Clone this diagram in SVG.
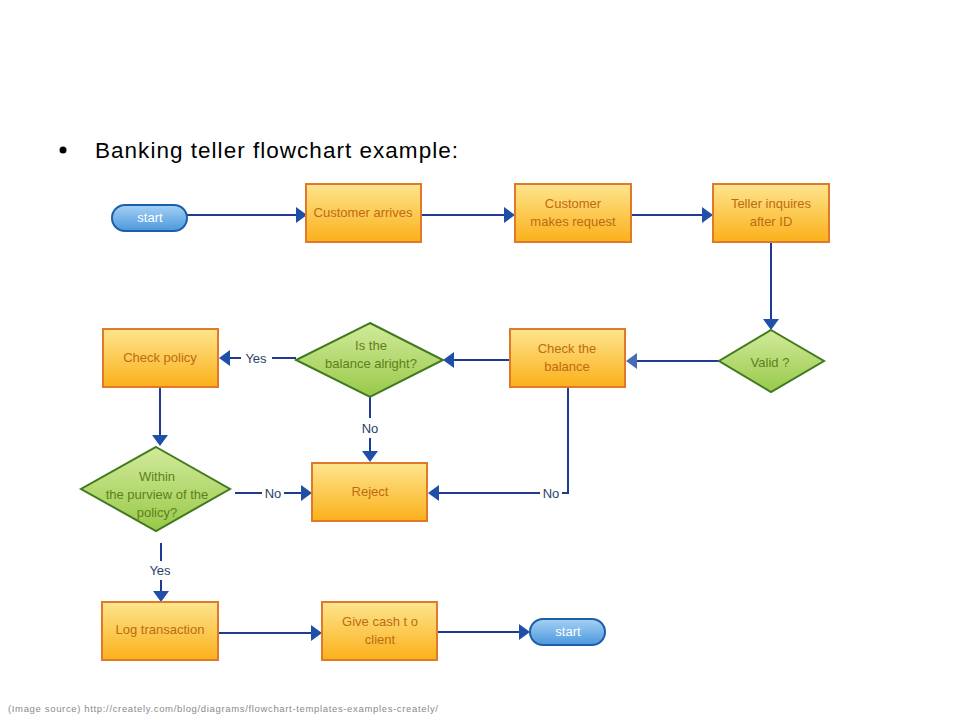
<svg xmlns="http://www.w3.org/2000/svg" width="960" height="720" viewBox="0 0 960 720">
<style>
.box{stroke:#e07a2a;stroke-width:2;fill:url(#og)}
.dia{stroke:#3f7a1e;stroke-width:2;fill:url(#gg)}
.pill{stroke:#1d5ea8;stroke-width:2;fill:url(#bg)}
.bt{font-family:"Liberation Sans",Arial,sans-serif;font-size:13px;fill:#c06a12;text-anchor:middle}
.dt{font-family:"Liberation Sans",Arial,sans-serif;font-size:13px;fill:#5f7f1c;text-anchor:middle}
.pt{font-family:"Liberation Sans",Arial,sans-serif;font-size:13px;fill:#ffffff;text-anchor:middle}
.lt{font-family:"Liberation Sans",Arial,sans-serif;font-size:13px;fill:#2b3f66;text-anchor:middle}
.ln{stroke:#1f3a94;stroke-width:2;fill:none}
.ah{fill:#1f4fa8}
</style>
<defs>
<linearGradient id="og" x1="0" y1="0" x2="0" y2="1"><stop offset="0" stop-color="#fde58e"/><stop offset="1" stop-color="#fbb01a"/></linearGradient>
<linearGradient id="gg" x1="0" y1="0" x2="0" y2="1"><stop offset="0" stop-color="#d2ea9a"/><stop offset="1" stop-color="#98c94a"/></linearGradient>
<linearGradient id="bg" x1="0" y1="0" x2="0" y2="1"><stop offset="0" stop-color="#a5d2f5"/><stop offset="1" stop-color="#4b97dc"/></linearGradient>
</defs>
<rect width="960" height="720" fill="#ffffff"/>
<circle cx="63" cy="150" r="3.5" fill="#000"/>
<text x="95" y="158" font-family="'Liberation Sans',Arial,sans-serif" font-size="22.5" fill="#000" textLength="363">Banking teller flowchart example:</text>
<text x="8" y="712" font-family="'Liberation Sans',Arial,sans-serif" font-size="9.5" fill="#8a8a8a" textLength="430">(Image source) http://creately.com/blog/diagrams/flowchart-templates-examples-creately/</text>

<g id="connectors">
<path class="ln" d="M187 215 H298"/><path class="ah" d="M307 215 L296 207 L296 223 Z"/>
<path class="ln" d="M421 215 H506"/><path class="ah" d="M515 215 L504 207 L504 223 Z"/>
<path class="ln" d="M631 215 H704"/><path class="ah" d="M713 215 L702 207 L702 223 Z"/>
<path class="ln" d="M771 242 V320"/><path class="ah" d="M771 330 L763 319 L779 319 Z"/>
<path class="ln" d="M719 361 H636"/><path d="M626 361 L637 353 L637 369 Z" fill="#4a6ab8"/>
<path class="ln" d="M510 360 H453"/><path class="ah" d="M443 360 L454 352 L454 368 Z"/>
<path class="ln" d="M296 358 H272"/><path class="ln" d="M241 358 H229"/><path class="ah" d="M219 358 L230 350 L230 366 Z"/>
<text class="lt" x="256" y="363">Yes</text>
<path class="ln" d="M160 387 V436"/><path class="ah" d="M160 446 L152 435 L168 435 Z"/>
<path class="ln" d="M370 397 V418"/><path class="ln" d="M370 438 V452"/><path class="ah" d="M370 462 L362 451 L378 451 Z"/>
<text class="lt" x="370" y="433">No</text>
<path class="ln" d="M235 493 H262"/><path class="ln" d="M284 493 H303"/><path class="ah" d="M312 493 L301 485 L301 501 Z"/>
<text class="lt" x="273" y="498">No</text>
<path class="ln" d="M568 387 V493 H562"/><path class="ln" d="M540 493 H438"/><path class="ah" d="M428 493 L439 485 L439 501 Z"/>
<text class="lt" x="551" y="498">No</text>
<path class="ln" d="M161 543 V561"/><path class="ln" d="M161 580 V592"/><path class="ah" d="M161 602 L153 591 L169 591 Z"/>
<text class="lt" x="160" y="575">Yes</text>
<path class="ln" d="M218 633 H313"/><path class="ah" d="M322 633 L311 625 L311 641 Z"/>
<path class="ln" d="M437 632 H521"/><path class="ah" d="M530 632 L519 624 L519 640 Z"/>
</g>

<g id="start"><rect class="pill" x="112" y="205" width="75" height="26" rx="13"/><text class="pt" x="150" y="222">start</text></g>
<g id="customer-arrives"><rect class="box" x="306" y="184" width="115" height="58"/><text class="bt" x="363" y="217">Customer arrives</text></g>
<g id="customer-request"><rect class="box" x="515" y="184" width="116" height="58"/><text class="bt" x="573" y="208">Customer</text><text class="bt" x="573" y="226">makes request</text></g>
<g id="teller"><rect class="box" x="713" y="184" width="116" height="58"/><text class="bt" x="771" y="208">Teller inquires</text><text class="bt" x="771" y="226">after ID</text></g>
<g id="valid"><path class="dia" d="M771 330 L824 361 L771 392 L719 361 Z"/><text class="dt" x="770" y="367">Valid  ?</text></g>
<g id="check-balance"><rect class="box" x="510" y="329" width="115" height="58"/><text class="bt" x="567" y="353">Check the</text><text class="bt" x="567" y="371">balance</text></g>
<g id="balance-ok"><path class="dia" d="M370 323 L443 360 L370 397 L296 360 Z"/><text class="dt" x="371" y="350">Is the</text><text class="dt" x="371" y="368">balance  alright?</text></g>
<g id="check-policy"><rect class="box" x="103" y="329" width="115" height="58"/><text class="bt" x="160" y="362">Check policy</text></g>
<g id="within"><path class="dia" d="M156 447 L230 489 L156 531 L81 489 Z"/><text class="dt" x="157" y="481">Within</text><text class="dt" x="157" y="499">the purview  of the</text><text class="dt" x="157" y="517">policy?</text></g>
<g id="reject"><rect class="box" x="312" y="463" width="115" height="58"/><text class="bt" x="370" y="496">Reject</text></g>
<g id="log"><rect class="box" x="102" y="602" width="116" height="58"/><text class="bt" x="160" y="634">Log transaction</text></g>
<g id="give-cash"><rect class="box" x="322" y="602" width="115" height="58"/><text class="bt" x="380" y="626">Give cash t o</text><text class="bt" x="380" y="644">client</text></g>
<g id="end"><rect class="pill" x="530" y="619" width="75" height="26" rx="13"/><text class="pt" x="568" y="636">start</text></g>
</svg>
